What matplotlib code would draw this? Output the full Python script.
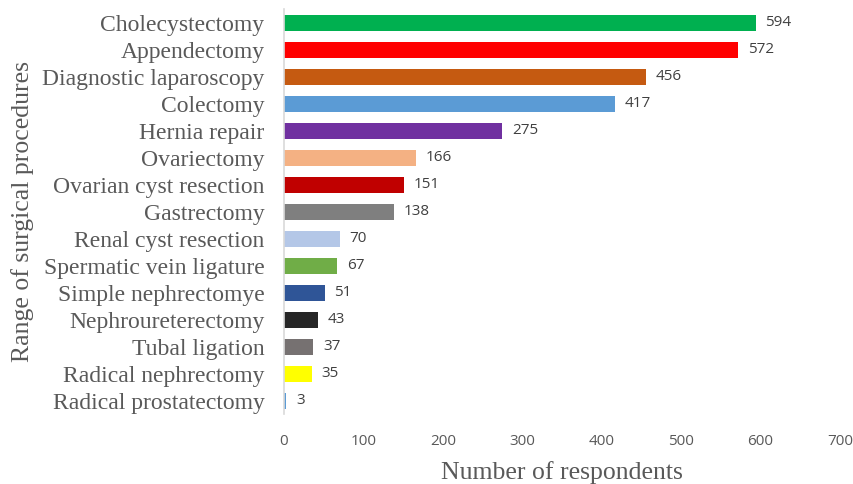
import matplotlib
matplotlib.use("Agg")
import matplotlib.pyplot as plt

procedures = [
    "Cholecystectomy", "Appendectomy", "Diagnostic laparoscopy", "Colectomy",
    "Hernia repair", "Ovariectomy", "Ovarian cyst resection", "Gastrectomy",
    "Renal cyst resection", "Spermatic vein ligature", "Simple nephrectomye",
    "Nephroureterectomy", "Tubal ligation", "Radical nephrectomy",
    "Radical prostatectomy",
]
respondents = [594, 572, 456, 417, 275, 166, 151, 138, 70, 67, 51, 43, 37, 35, 3]
colors = [
    "#00B050", "#FF0000", "#C55A11", "#5B9BD5", "#7030A0", "#F4B183", "#C00000",
    "#7F7F7F", "#B4C7E7", "#70AD47", "#2F5597", "#262626", "#767171", "#FFFF00",
    "#5B9BD5",
]
xticks = [0, 100, 200, 300, 400, 500, 600, 700]

serif = "Liberation Serif"
sans = "Open Sans"

fig = plt.figure(figsize=(8.54, 4.84), dpi=100)
ax = fig.add_axes([0.3326, 0.1436, 0.651, 0.8368])

y = list(range(len(procedures)))
ax.barh(y, respondents, height=0.6, color=colors)
for yi, v in zip(y, respondents):
    ax.text(v + 12, yi, str(v), va="center", ha="left", fontsize=11,
            family=sans, color="#404040")

ax.set_ylim(len(procedures) - 0.5, -0.5)
ax.set_xlim(0, 700)
ax.set_yticks(y)
ax.set_yticklabels(procedures, family=serif, fontsize=17, color="#595959")
ax.set_xticks(xticks)
ax.set_xticklabels([str(t) for t in xticks], family=sans, fontsize=11, color="#595959")
ax.tick_params(axis="both", length=0)
ax.tick_params(axis="y", pad=14)
ax.tick_params(axis="x", pad=14)

for s in ["top", "right", "bottom"]:
    ax.spines[s].set_visible(False)
ax.spines["left"].set_color("#D9D9D9")
ax.spines["left"].set_linewidth(1.2)

ax.set_xlabel("Number of respondents", family=serif, fontsize=18.5, color="#595959", labelpad=9)
ax.set_ylabel("Range of surgical procedures", family=serif, fontsize=18.5, color="#595959", labelpad=6)

fig.savefig("out.png", dpi=100)
